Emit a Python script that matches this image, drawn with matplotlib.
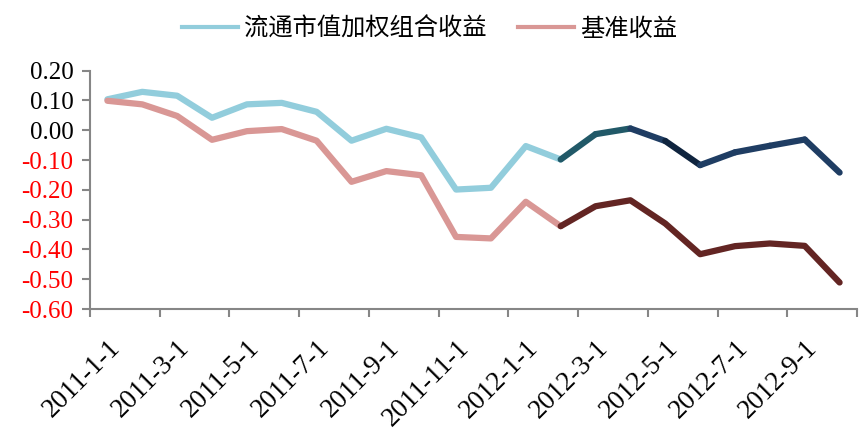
import matplotlib
matplotlib.use("Agg")
import matplotlib.pyplot as plt
from matplotlib.lines import Line2D

# monthly data, 2011-1 .. 2012-10
months = ["2011-1-1", "2011-2-1", "2011-3-1", "2011-4-1", "2011-5-1", "2011-6-1",
          "2011-7-1", "2011-8-1", "2011-9-1", "2011-10-1", "2011-11-1", "2011-12-1",
          "2012-1-1", "2012-2-1", "2012-3-1", "2012-4-1", "2012-5-1", "2012-6-1",
          "2012-7-1", "2012-8-1", "2012-9-1", "2012-10-1"]
portfolio = [0.104, 0.129, 0.116, 0.042, 0.087, 0.092, 0.062, -0.035, 0.005, -0.024,
             -0.199, -0.193, -0.053, -0.098, -0.013, 0.006, -0.036, -0.117, -0.074,
             -0.052, -0.031, -0.142]
benchmark = [0.099, 0.087, 0.048, -0.032, -0.003, 0.004, -0.035, -0.173, -0.137, -0.151,
             -0.358, -0.363, -0.240, -0.322, -0.255, -0.235, -0.313, -0.416, -0.389,
             -0.380, -0.388, -0.511]
label_port = "流通市值加权组合收益"
label_bench = "基准收益"
split = 13  # from 2012-2 on the lines are drawn dark

yticks = [0.20, 0.10, 0.00, -0.10, -0.20, -0.30, -0.40, -0.50, -0.60]

plt.rcParams['font.family'] = ['Liberation Serif', 'Noto Sans CJK SC']

fig = plt.figure(figsize=(8.67, 4.41), dpi=100)
ax = fig.add_axes([0.1038, 0.2993, 0.8847, 0.5404])

x = list(range(len(months)))
lw = 4.5
c_port = "#92cddc"
c_bench = "#d99795"
ax.plot(x[:split + 1], portfolio[:split + 1], color=c_port, lw=lw, solid_capstyle='round')
ax.plot(x[:split + 1], benchmark[:split + 1], color=c_bench, lw=lw, solid_capstyle='round')

# dark part, a few segments differ in shade
dark_port = ["#215968", "#215968", "#1f3d63", "#0f243e", "#1f3d63", "#1f3d63", "#1f3d63", "#1f3d63"]
for k, i in enumerate(range(split, len(x) - 1)):
    ax.plot(x[i:i + 2], portfolio[i:i + 2], color=dark_port[k], lw=lw, solid_capstyle='round')
ax.plot(x[split:], benchmark[split:], color="#632523", lw=lw, solid_capstyle='round')

ax.set_xlim(-0.5, len(x) - 0.5)
ax.set_ylim(-0.6, 0.2)

ax.set_yticks(yticks)
ax.set_yticklabels(["%.2f" % v for v in yticks], fontsize=18)
for lab, v in zip(ax.get_yticklabels(), yticks):
    lab.set_color("red" if v < 0 else "black")

# ticks at category borders, labels at every second category
ax.set_xticks([i - 0.5 for i in range(0, len(x) + 1, 2)])
ax.set_xticklabels([])
ax.set_xticks(x[::2], minor=True)
ax.set_xticklabels(months[::2], minor=True, rotation=45, ha='right', va='top',
                   rotation_mode='anchor', fontsize=19.5)
ax.tick_params(axis='x', which='minor', length=0, pad=19)
ax.tick_params(axis='both', which='major', color="#868686", width=1.5, length=6)
ax.tick_params(axis='y', pad=6)

for s in ["top", "right"]:
    ax.spines[s].set_visible(False)
for s in ["left", "bottom"]:
    ax.spines[s].set_color("#868686")
    ax.spines[s].set_linewidth(1.5)

handles = [Line2D([], [], color=c_port, lw=3), Line2D([], [], color=c_bench, lw=3)]
fig.legend(handles, [label_port, label_bench], loc='center', bbox_to_anchor=(0.495, 0.935),
           ncol=2, frameon=False, prop={'family': 'Noto Sans CJK SC', 'size': 17.5},
           handlelength=2.3, columnspacing=1.3, handletextpad=0.25)

fig.savefig("out.png", dpi=100)
